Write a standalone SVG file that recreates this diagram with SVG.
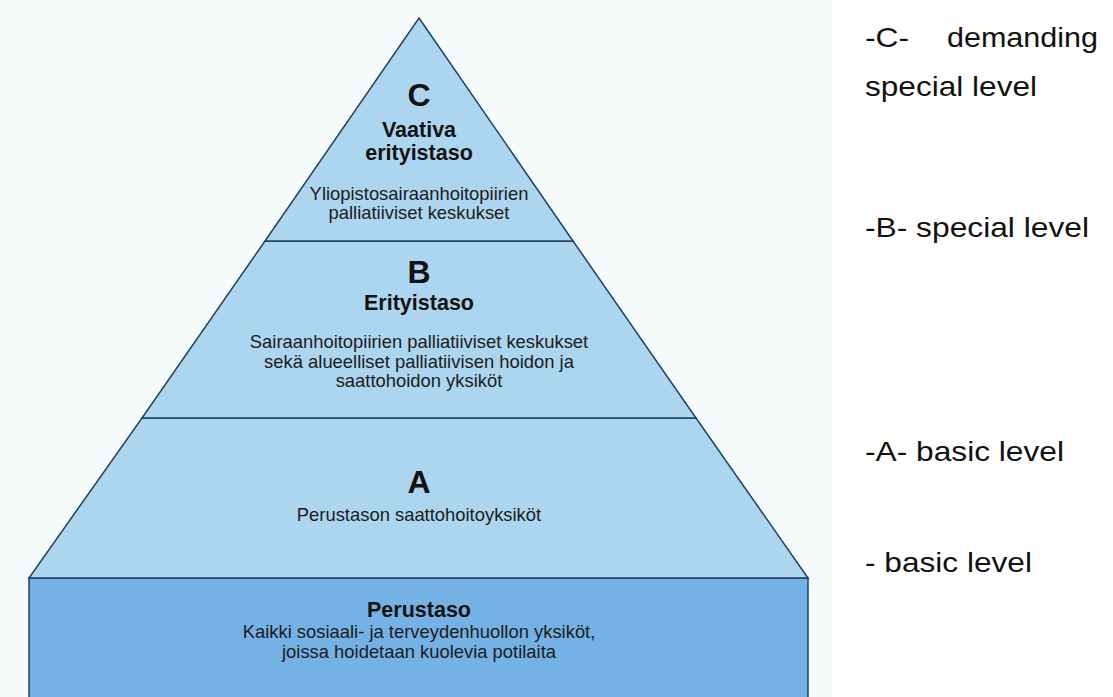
<svg xmlns="http://www.w3.org/2000/svg" width="1113" height="697" viewBox="0 0 1113 697">
<style>
.n{font-family:"Liberation Sans",Arial,sans-serif;fill:#111;text-anchor:middle}
.big{font-size:32px;font-weight:bold}
.hd{font-size:21.5px;font-weight:bold}
.tx{font-size:18.4px;fill:#1c1c1c}
.r{font-family:"Liberation Sans",Arial,sans-serif;font-size:28px;fill:#111}
.band{fill:#acd5ef;stroke:#22405f;stroke-width:1.5}
</style>
<rect x="0" y="0" width="1113" height="697" fill="#ffffff"/>
<rect x="0" y="0" width="832" height="697" fill="#f6fbfc"/>
<g id="base">
<rect x="29" y="578" width="779" height="125" fill="#74b1e4" stroke="#22405f" stroke-width="1.5"/>
<text class="n hd" x="419" y="617">Perustaso</text>
<text class="n tx" x="419" y="638">Kaikki sosiaali- ja terveydenhuollon yksiköt,</text>
<text class="n tx" x="419" y="658">joissa hoidetaan kuolevia potilaita</text>
</g>
<g id="levelA">
<polygon class="band" points="142,418 696,418 808,578 29,578"/>
<text class="n big" x="419" y="493">A</text>
<text class="n tx" x="419" y="521">Perustason saattohoitoyksiköt</text>
</g>
<g id="levelB">
<polygon class="band" points="265,241 573,241 696,418 142,418"/>
<text class="n big" x="419" y="283">B</text>
<text class="n hd" x="419" y="310">Erityistaso</text>
<text class="n tx" x="419" y="348">Sairaanhoitopiirien palliatiiviset keskukset</text>
<text class="n tx" x="419" y="368">sekä alueelliset palliatiivisen hoidon ja</text>
<text class="n tx" x="419" y="387">saattohoidon yksiköt</text>
</g>
<g id="levelC">
<polygon class="band" points="419,18 573,241 265,241"/>
<text class="n big" x="419" y="106">C</text>
<text class="n hd" x="419" y="137">Vaativa</text>
<text class="n hd" x="419" y="160">erityistaso</text>
<text class="n tx" x="419" y="200">Yliopistosairaanhoitopiirien</text>
<text class="n tx" x="419" y="219">palliatiiviset keskukset</text>
</g>
<g id="labels">
<text class="r" x="865" y="47" textLength="44" lengthAdjust="spacingAndGlyphs">-C-</text>
<text class="r" x="947" y="47" textLength="151" lengthAdjust="spacingAndGlyphs">demanding</text>
<text class="r" x="865" y="96" textLength="172" lengthAdjust="spacingAndGlyphs">special level</text>
<text class="r" x="865" y="237" textLength="224" lengthAdjust="spacingAndGlyphs">-B- special level</text>
<text class="r" x="865" y="461" textLength="199" lengthAdjust="spacingAndGlyphs">-A- basic level</text>
<text class="r" x="865" y="572" textLength="167" lengthAdjust="spacingAndGlyphs">- basic level</text>
</g>
</svg>
